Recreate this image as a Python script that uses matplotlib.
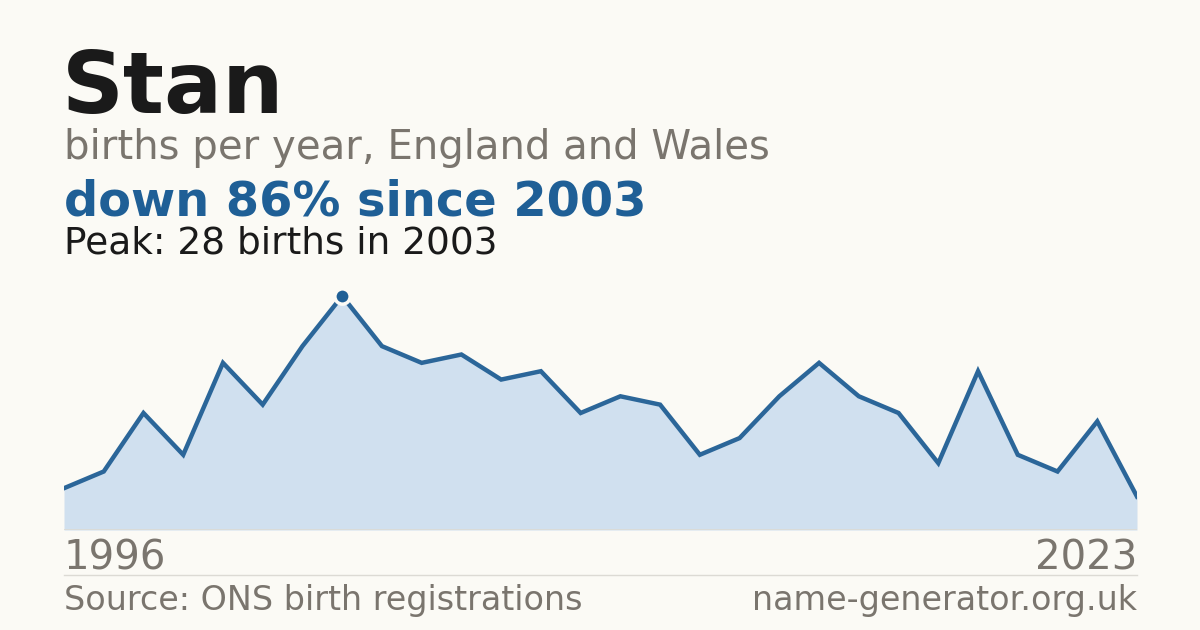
import matplotlib

matplotlib.use("Agg")
import matplotlib.pyplot as plt
from matplotlib.lines import Line2D

# births of the name per year
YEARS = list(range(1996, 2024))
BIRTHS = [5, 7, 14, 9, 20, 15, 22, 28, 22, 20, 21, 18, 19, 14,
          16, 15, 9, 11, 16, 20, 16, 14, 8, 19, 9, 7, 13, 4]

NAME = "Stan"
SUBTITLE = "births per year, England and Wales"
SOURCE = "Source: ONS birth registrations"
SITE = "name-generator.org.uk"

BG = "#fbfaf5"
LINE = "#2b6699"
FILL = "#d0e0ef"
BLUE = "#1f5f96"
GREY = "#7a756e"
DARK = "#1a1a1a"

W, H = 1200, 630

plt.rcParams["font.family"] = ["DejaVu Sans"]


def fy(px):
    # pixel row from top -> figure fraction
    return 1 - px / H


def fx(px):
    return px / W


peak_i = max(range(len(BIRTHS)), key=lambda i: BIRTHS[i])
peak_year = YEARS[peak_i]
peak_val = BIRTHS[peak_i]
change = round((1 - BIRTHS[-1] / peak_val) * 100)

fig = plt.figure(figsize=(12, 6.3), dpi=100, facecolor=BG)

left, right = 64, 1137
bottom, top = 530, 280
ax = fig.add_axes([fx(left), fy(bottom), fx(right - left), fy(top) - fy(bottom)])
ax.set_facecolor(BG)
ax.fill_between(YEARS, BIRTHS, 0, color=FILL, lw=0)
ax.plot(YEARS, BIRTHS, color=LINE, lw=3.2, solid_joinstyle="miter", zorder=3)
ax.plot([peak_year], [peak_val], "o", ms=11, color=BLUE, mec=BG, mew=2.5, zorder=4)
ax.set_xlim(YEARS[0], YEARS[-1])
ax.set_ylim(0, peak_val * 250 / 234)
ax.axhline(0, color="#dcdad4", lw=1.2, zorder=2)
ax.axis("off")

fig.text(fx(62), fy(113), NAME, fontsize=62, fontweight="bold", color=DARK, va="baseline")
fig.text(fx(64), fy(159), SUBTITLE, fontsize=29, color=GREY, va="baseline")
fig.text(fx(64), fy(215), f"down {change}% since {peak_year}", fontsize=34.5,
         fontweight="bold", color=BLUE, va="baseline")
fig.text(fx(64), fy(254), f"Peak: {peak_val} births in {peak_year}", fontsize=27,
         color=DARK, va="baseline")

fig.text(fx(64), fy(570), str(YEARS[0]), fontsize=29, color=GREY, va="baseline")
fig.text(fx(1137), fy(570), str(YEARS[-1]), fontsize=29, color=GREY, va="baseline", ha="right")

fig.add_artist(Line2D([fx(64), fx(1137)], [fy(575), fy(575)], color="#dcdad4", lw=1))

fig.text(fx(64), fy(610), SOURCE, fontsize=24, color=GREY, va="baseline")
fig.text(fx(1137), fy(610), SITE, fontsize=24, color=GREY, va="baseline", ha="right")

fig.savefig("out.png", dpi=100, facecolor=BG)
